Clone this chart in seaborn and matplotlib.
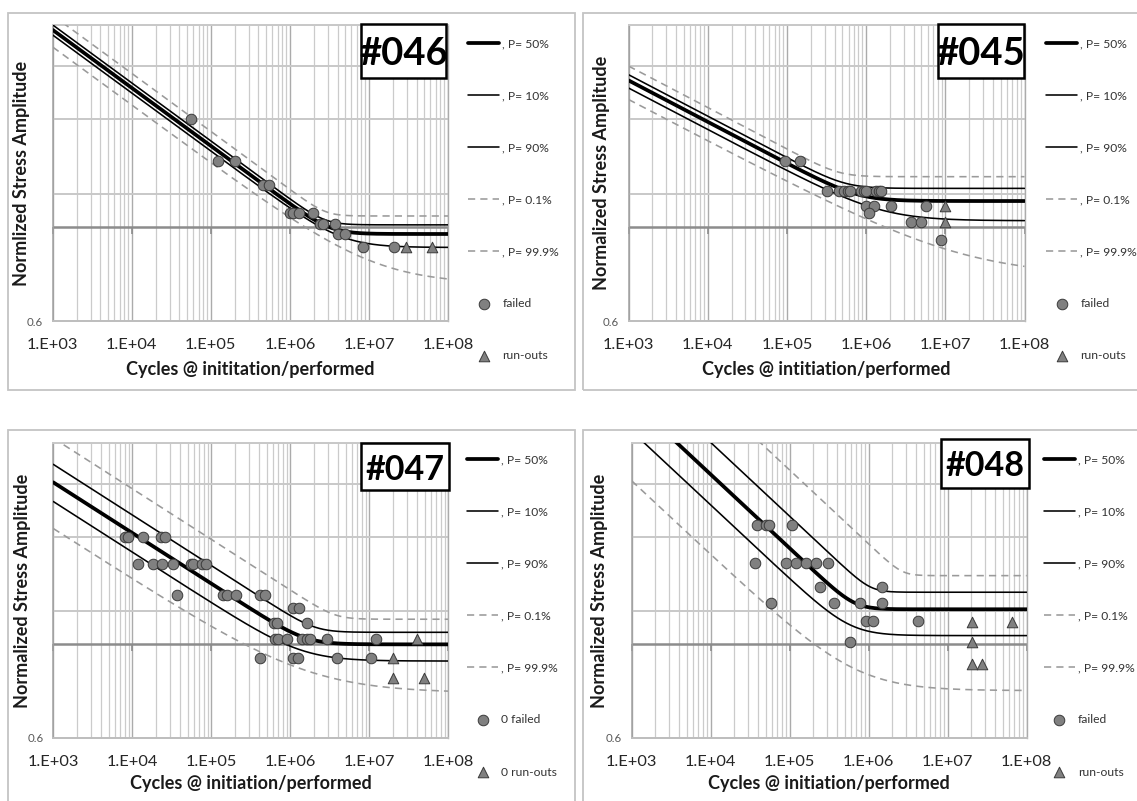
import numpy as np
import matplotlib
matplotlib.use("Agg")
import matplotlib.pyplot as plt
import matplotlib.markers as mmarkers
import seaborn as sns
from matplotlib.ticker import FixedLocator, NullFormatter, FuncFormatter, LogLocator
from matplotlib.patches import Rectangle

# ---------------------------------------------------------------- data
quantile_labels = [", P= 50%", ", P= 10%", ", P= 90%", ", P= 0.1%", ", P= 99.9%"]
knee_sharpness = [20, 25, 12, 30, 6]

# S-N curves: stress of the sloped branch at 1e3 cycles, endurance stress, slope
s046_s1k = [2.92, 3.00, 2.84, 3.16, 2.66]
s046_se = [0.963, 1.012, 0.895, 1.062, 0.734]
s046_slope = 0.137
s045_s1k = [2.22, 2.29, 2.13, 2.40, 2.00]
s045_se = [1.152, 1.234, 1.035, 1.315, 0.767]
s045_slope = 0.098
s047_s1k = [2.42, 2.67, 2.18, 3.08, 1.88]
s047_se = [1.000, 1.068, 0.913, 1.147, 0.768]
s047_slope = 0.120
s048_s1k = [3.78, 4.50, 3.20, 5.79, 2.44]
s048_se = [1.211, 1.329, 1.049, 1.455, 0.777]
s048_slope = 0.175

# test results: cycles and normalized stress amplitude
s046_fail_n = [5.6e4, 1.24e5, 2.0e5, 4.6e5, 5.4e5, 1.0e6, 1.1e6, 1.3e6, 1.95e6,
               2.4e6, 2.65e6, 3.7e6, 4.1e6, 5.0e6, 8.5e6, 2.1e7]
s046_fail_s = [1.80, 1.43, 1.43, 1.257, 1.257, 1.078, 1.078, 1.078, 1.078,
               1.015, 1.015, 1.015, 0.961, 0.961, 0.899, 0.899]
s046_run_n = [2.9e7, 6.3e7]
s046_run_s = [0.899, 0.899]

s045_fail_n = [9.5e4, 1.45e5, 3.2e5, 4.6e5, 5.2e5, 5.9e5, 6.3e5, 8.5e5, 9.3e5,
               1.0e6, 1.32e6, 1.45e6, 1.55e6, 1.0e6, 1.25e6, 2.04e6, 5.7e6,
               1.08e6, 3.65e6, 5.0e6, 8.8e6]
s045_fail_s = [1.43, 1.43, 1.215, 1.215, 1.215, 1.215, 1.215, 1.215, 1.215,
               1.215, 1.215, 1.215, 1.215, 1.121, 1.121, 1.121, 1.121,
               1.078, 1.030, 1.030, 0.932]
s045_run_n = [1.0e7, 1.0e7]
s045_run_s = [1.121, 1.030]

s047_fail_n = [8.1e3, 8.9e3, 1.35e4, 2.29e4, 2.59e4,
               1.19e4, 1.81e4, 2.4e4, 3.24e4, 5.5e4, 5.9e4, 7.6e4, 8.6e4,
               3.65e4, 1.42e5, 1.57e5, 2.06e5, 4.13e5, 4.79e5,
               1.09e6, 1.30e6, 6.2e5, 6.8e5, 1.61e6,
               6.4e5, 7.0e5, 9.0e5, 1.39e6, 1.61e6, 1.77e6, 2.89e6, 1.22e7,
               4.13e5, 1.09e6, 1.26e6, 3.86e6, 1.04e7]
s047_fail_s = [1.80, 1.80, 1.80, 1.80, 1.80,
               1.55, 1.55, 1.55, 1.55, 1.55, 1.55, 1.55, 1.55,
               1.309, 1.309, 1.309, 1.309, 1.309, 1.309,
               1.218, 1.218, 1.122, 1.122, 1.122,
               1.028, 1.028, 1.028, 1.028, 1.028, 1.028, 1.028, 1.028,
               0.930, 0.930, 0.930, 0.930, 0.930]
s047_run_n = [3.98e7, 1.98e7, 1.98e7, 4.97e7]
s047_run_s = [1.028, 0.930, 0.834, 0.834]

s048_fail_n = [3.89e4, 5.0e4, 5.5e4, 1.08e5,
               3.67e4, 8.9e4, 1.19e5, 1.61e5, 2.13e5, 3.08e5,
               2.42e5, 1.46e6, 5.8e4, 3.64e5, 7.8e5, 1.49e6,
               9.2e5, 1.14e6, 4.25e6, 5.8e5]
s048_fail_s = [1.92, 1.92, 1.92, 1.92,
               1.556, 1.556, 1.556, 1.556, 1.556, 1.556,
               1.370, 1.370, 1.256, 1.256, 1.256, 1.256,
               1.138, 1.138, 1.138, 1.015]
s048_run_n = [2.01e7, 6.46e7, 2.01e7, 2.01e7, 2.69e7]
s048_run_s = [1.132, 1.132, 1.012, 0.897, 0.897]

x_decades = [1e3, 1e4, 1e5, 1e6, 1e7, 1e8]
y_limits = (0.6, 3.0)
y_grid = [1.2, 1.8, 2.4, 3.0]

# ---------------------------------------------------------------- style
sns.set_style("white")
plt.rcParams["font.family"] = ["Lato", "DejaVu Sans"]
plt.rcParams["axes.unicode_minus"] = False

W, H = 1137, 801
fig = plt.figure(figsize=(W / 100, H / 100), dpi=100)


def fig_rect(l, t, r, b):
    return [l / W, 1 - b / H, (r - l) / W, (b - t) / H]


line_colors = ["black", "black", "black", "#9a9a9a", "#9a9a9a"]
line_widths = [2.7, 1.15, 1.15, 1.15, 1.15]
line_styles = ["-", "-", "-", (0, (4.5, 3.2)), (0, (4.5, 3.2))]


def sn_curve(n, s1k, se, slope, p):
    ln10 = np.log(10)
    sloped = np.log10(s1k) - slope * (np.log10(n) - 3)
    flat = np.log10(se)
    return 10 ** (np.logaddexp(p * sloped * ln10, p * flat * ln10) / (p * ln10))


panels = [
    dict(tag="#046", s1k=s046_s1k, se=s046_se, slope=s046_slope,
         fn=s046_fail_n, fs=s046_fail_s, rn=s046_run_n, rs=s046_run_s,
         ylabel="Normlized Stress Amplitude", xlabel="Cycles @ inititation/performed",
         fail_lab="failed", run_lab="run-outs",
         ax_px=(52.8, 25, 448, 321), frame_px=(8, 13, 575, 390), leg_px=(468, 43),
         ylab_x=22, xlab_y=370, tag_px=(361, 24, 446, 78), tag_fs=27.5),
    dict(tag="#045", s1k=s045_s1k, se=s045_se, slope=s045_slope,
         fn=s045_fail_n, fs=s045_fail_s, rn=s045_run_n, rs=s045_run_s,
         ylabel="Normalized Stress Amplitude", xlabel="Cycles @ intitiation/performed",
         fail_lab="failed", run_lab="run-outs",
         ax_px=(628.5, 25, 1024.5, 321), frame_px=(583, 13, 1160, 390), leg_px=(1046, 43),
         ylab_x=601, xlab_y=370, tag_px=(938, 24, 1024, 78), tag_fs=27.5),
    dict(tag="#047", s1k=s047_s1k, se=s047_se, slope=s047_slope,
         fn=s047_fail_n, fs=s047_fail_s, rn=s047_run_n, rs=s047_run_s,
         ylabel="Normalized Stress Amplitude", xlabel="Cycles @ initiation/performed",
         fail_lab="0 failed", run_lab="0 run-outs",
         ax_px=(53.3, 443, 448.3, 738), frame_px=(8, 430, 575, 830), leg_px=(467, 459),
         ylab_x=22.5, xlab_y=783, tag_px=(361, 443, 449, 490), tag_fs=24.5),
    dict(tag="#048", s1k=s048_s1k, se=s048_se, slope=s048_slope,
         fn=s048_fail_n, fs=s048_fail_s, rn=s048_run_n, rs=s048_run_s,
         ylabel="Normalized Stress Amplitude", xlabel="Cycles @ initiation/performed",
         fail_lab="failed", run_lab="run-outs",
         ax_px=(631.7, 443, 1026.7, 738), frame_px=(583, 430, 1160, 830), leg_px=(1043.5, 459),
         ylab_x=599, xlab_y=783, tag_px=(941, 439, 1029, 488), tag_fs=24.5),
]

n_grid = np.logspace(3, 8, 600)

for pnl in panels:
    fl, ft, fr, fb = pnl["frame_px"]
    fig.patches.append(Rectangle((fl / W, 1 - fb / H), (fr - fl) / W, (fb - ft) / H,
                                 transform=fig.transFigure, fill=False,
                                 edgecolor="#c4c4c4", linewidth=1.3))

    l, t, r, b = pnl["ax_px"]
    ax = fig.add_axes(fig_rect(l, t, r, b))
    ax.set_xscale("log")
    ax.set_yscale("log")

    handles = []
    for k in range(5):
        s = sn_curve(n_grid, pnl["s1k"][k], pnl["se"][k], pnl["slope"], knee_sharpness[k])
        sns.lineplot(x=n_grid, y=s, ax=ax, color=line_colors[k], linewidth=line_widths[k],
                     estimator=None, sort=False, legend=False, zorder=3)
        ln = ax.lines[-1]
        ln.set_linestyle(line_styles[k])
        ln.set_label(quantile_labels[k])
        handles.append(ln)

    sns.scatterplot(x=pnl["fn"], y=pnl["fs"], ax=ax, marker="o", s=58,
                    color="#808080", edgecolor="#3a3a3a", linewidth=0.7, zorder=5,
                    legend=False)
    handles.append(ax.collections[-1])
    sns.scatterplot(x=pnl["rn"], y=pnl["rs"], ax=ax, marker="^", s=58,
                    color="#808080", edgecolor="#3a3a3a", linewidth=0.7, zorder=5,
                    legend=False)
    handles.append(ax.collections[-1])

    ax.set_xlim(x_decades[0], x_decades[-1])
    ax.set_ylim(*y_limits)

    # x axis crosses at S = 1.0
    ax.axhline(1.0, color="#8c8c8c", linewidth=1.8, zorder=2)
    ax.plot(x_decades, [1.0] * len(x_decades), linestyle="none",
            marker=mmarkers.TICKDOWN, markersize=5, markeredgewidth=1.2,
            color="#8c8c8c", zorder=2, clip_on=False)

    ax.xaxis.set_major_locator(FixedLocator(x_decades))
    ax.xaxis.set_minor_locator(LogLocator(base=10, subs=np.arange(2, 10)))
    ax.xaxis.set_major_formatter(FuncFormatter(lambda v, _: f"1.E+{int(round(np.log10(v))):02d}"))
    ax.xaxis.set_minor_formatter(NullFormatter())
    ax.yaxis.set_major_locator(FixedLocator([y_limits[0]]))
    ax.yaxis.set_major_formatter(FuncFormatter(lambda v, _: f"{v:g}"))
    ax.yaxis.set_minor_locator(FixedLocator(y_grid))
    ax.yaxis.set_minor_formatter(NullFormatter())

    ax.grid(True, which="major", axis="x", color="#ababab", linewidth=1.0, zorder=0)
    ax.grid(True, which="minor", axis="x", color="#cbcbcb", linewidth=0.9, zorder=0)
    ax.grid(True, which="minor", axis="y", color="#c8c8c8", linewidth=1.4, zorder=0)
    ax.set_axisbelow(True)

    ax.tick_params(axis="x", which="both", length=0, pad=12, labelsize=11.8,
                   labelcolor="#262626")
    ax.tick_params(axis="y", which="both", length=0, pad=7, labelsize=8.3,
                   labelcolor="#595959")

    for side, col, lw in [("left", "#a0a0a0", 1.1), ("bottom", "#bdbdbd", 1.4),
                          ("right", "#ababab", 1.0), ("top", "#c8c8c8", 1.4)]:
        ax.spines[side].set_visible(True)
        ax.spines[side].set_color(col)
        ax.spines[side].set_linewidth(lw)

    aw, ah = r - l, b - t
    ax.set_ylabel(pnl["ylabel"], fontsize=13, fontweight="bold", color="#1a1a1a",
                  va="center", ha="center")
    ax.yaxis.set_label_coords((pnl["ylab_x"] - l) / aw, 0.5)
    ax.set_xlabel(pnl["xlabel"], fontsize=13, fontweight="bold", color="#1a1a1a",
                  va="center", ha="center")
    ax.xaxis.set_label_coords(0.5, (b - pnl["xlab_y"]) / ah)

    # specimen tag in its box
    tl, tt, tr, tb = pnl["tag_px"]
    ax.add_patch(Rectangle(((tl - l) / aw, (b - tb) / ah), (tr - tl) / aw, (tb - tt) / ah,
                           transform=ax.transAxes, facecolor="white", edgecolor="black",
                           linewidth=1.8, zorder=6, clip_on=False))
    ax.text(((tl + tr) / 2 - l) / aw, (b - (tt + tb) / 2) / ah, pnl["tag"],
            transform=ax.transAxes, ha="center", va="center_baseline",
            fontsize=pnl["tag_fs"], fontweight="bold", color="black", zorder=7)

    lx, ly = pnl["leg_px"]
    leg = ax.legend(handles=handles,
                    labels=quantile_labels + [pnl["fail_lab"], pnl["run_lab"]],
                    loc="upper left", bbox_to_anchor=(lx / W, 1 - (ly - 5) / H),
                    bbox_transform=fig.transFigure, frameon=False, fontsize=8.7,
                    handlelength=2.6, handletextpad=0.25, labelspacing=3.4,
                    borderpad=0, borderaxespad=0, scatterpoints=1,
                    labelcolor="#333333")

fig.savefig("out.png", dpi=100, facecolor="white")
